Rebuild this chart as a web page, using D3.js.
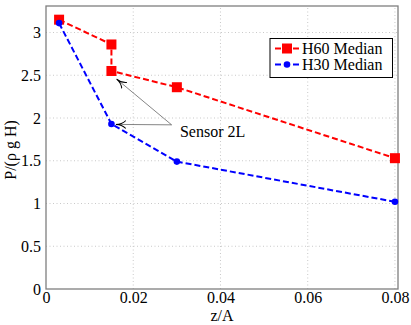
<!DOCTYPE html>
<html>
<head>
<meta charset="utf-8">
<script src="https://cdn.jsdelivr.net/npm/d3@7"></script>
<style>
  body{margin:0;background:#fff;}
  svg text{font-family:"Liberation Serif","DejaVu Serif",serif;fill:#000;}
</style>
</head>
<body>
<div id="chart"></div>
<script>
// data
const h60z = [0.003, 0.015, 0.015, 0.03, 0.08];
const h60p = [3.15, 2.86, 2.55, 2.36, 1.53];
const h30z = [0.003, 0.015, 0.03, 0.08];
const h30p = [3.11, 1.93, 1.49, 1.02];
const xTicks = [0, 0.02, 0.04, 0.06, 0.08];
const yTicks = [0, 0.5, 1, 1.5, 2, 2.5, 3];
const seriesNames = ["H60 Median", "H30 Median"];

const w = 411, h = 325;
const m = {left:46, right:13, top:6, bottom:36};
const fs = "16px";

const svg = d3.select("#chart").append("svg")
    .attr("width", w).attr("height", h);

const x = d3.scaleLinear().domain([0, 0.0807]).range([m.left, w - m.right]);
const y = d3.scaleLinear().domain([0, 3.31]).range([h - m.bottom, m.top]);

//grid
svg.append("g").selectAll("line").data(xTicks.slice(1)).enter().append("line")
    .attr("x1", d => x(d)).attr("x2", d => x(d))
    .attr("y1", y(0)).attr("y2", m.top)
    .attr("stroke", "#bbb").attr("stroke-width", 0.8).attr("stroke-dasharray", "1,2.5");
svg.append("g").selectAll("line").data(yTicks.slice(1)).enter().append("line")
    .attr("y1", d => y(d)).attr("y2", d => y(d))
    .attr("x1", x(0)).attr("x2", w - m.right)
    .attr("stroke", "#bbb").attr("stroke-width", 0.8).attr("stroke-dasharray", "1,2.5");

//axes with labels
const xAxis = svg.append("g").attr("transform", "translate(0," + y(0) + ")")
    .call(d3.axisBottom(x).tickValues(xTicks).tickSize(0).tickPadding(3)
        .tickFormat(d => d === 0 ? "0" : d3.format(".2f")(d)));
const yAxis = svg.append("g").attr("transform", "translate(" + x(0) + ",0)")
    .call(d3.axisLeft(y).tickValues(yTicks).tickSize(0).tickPadding(5)
        .tickFormat(d => d3.format("")(d)));
[xAxis, yAxis].forEach(a => {
    a.select(".domain").remove();
    a.selectAll("text").style("font-family", "Liberation Serif, serif").style("font-size", fs);
});

//frame
svg.append("rect")
    .attr("x", x(0)).attr("y", m.top)
    .attr("width", w - m.right - x(0)).attr("height", y(0) - m.top)
    .attr("fill", "none").attr("stroke", "#7f7f7f").attr("stroke-width", 1.3);

//axis titles
svg.append("text").attr("x", (x(0) + w - m.right) / 2).attr("y", 321)
    .attr("text-anchor", "middle").style("font-size", fs).text("z/A");
svg.append("text").attr("transform", "translate(16,150) rotate(-90)")
    .attr("text-anchor", "middle").style("font-size", fs).text("P/(ρ g H)");

//arrows for annotation
svg.append("defs").append("marker")
    .attr("id", "arr").attr("viewBox", "0 -5 10 10")
    .attr("refX", 10).attr("refY", 0)
    .attr("markerWidth", 10).attr("markerHeight", 10)
    .attr("markerUnits", "userSpaceOnUse").attr("orient", "auto")
    .append("path").attr("d", "M0,-4 Q4,0 10,0 Q4,0 0,4")
    .attr("fill", "none").attr("stroke", "#000").attr("stroke-width", 1);

const tail = [0.0288, 1.92];
const tips = [[0.0162, 2.455], [0.016, 1.925]];
svg.append("g").selectAll("line").data(tips).enter().append("line")
    .attr("x1", x(tail[0])).attr("y1", y(tail[1]))
    .attr("x2", d => x(d[0])).attr("y2", d => y(d[1]))
    .attr("stroke", "#333").attr("stroke-width", 0.6)
    .attr("marker-end", "url(#arr)");
svg.append("text").attr("x", x(0.0307)).attr("y", y(1.78))
    .style("font-size", fs).text("Sensor 2L");

//series lines
const line = d3.line().x(d => x(d[0])).y(d => y(d[1]));
const h60 = d3.zip(h60z, h60p);
const h30 = d3.zip(h30z, h30p);

svg.append("path").datum(h60).attr("d", line)
    .attr("fill", "none").attr("stroke", "#ff0000").attr("stroke-width", 2)
    .attr("stroke-dasharray", "6,3");
svg.append("path").datum(h30).attr("d", line)
    .attr("fill", "none").attr("stroke", "#0000ff").attr("stroke-width", 2)
    .attr("stroke-dasharray", "6,3");

svg.append("g").selectAll("rect").data(h60).enter().append("rect")
    .attr("x", d => x(d[0]) - 5).attr("y", d => y(d[1]) - 5)
    .attr("width", 10).attr("height", 10).attr("fill", "#ff0000");
svg.append("g").selectAll("circle").data(h30).enter().append("circle")
    .attr("cx", d => x(d[0])).attr("cy", d => y(d[1]))
    .attr("r", 3.3).attr("fill", "#0000ff");

//legend
const legend = svg.append("g").attr("id", "legend");
legend.append("rect").attr("x", 270).attr("y", 38.5).attr("width", 122.5).attr("height", 39)
    .attr("fill", "#fff").attr("stroke", "#000").attr("stroke-width", 1);
const colors = ["#ff0000", "#0000ff"];
seriesNames.forEach((name, i) => {
    const ly = 48.5 + i * 16;
    legend.append("line").attr("x1", 275).attr("x2", 299).attr("y1", ly).attr("y2", ly)
        .attr("stroke", colors[i]).attr("stroke-width", 2).attr("stroke-dasharray", "6,3");
    if (i === 0) {
        legend.append("rect").attr("x", 282).attr("y", ly - 5).attr("width", 10).attr("height", 10)
            .attr("fill", colors[i]);
    } else {
        legend.append("circle").attr("cx", 287).attr("cy", ly).attr("r", 3.3).attr("fill", colors[i]);
    }
    legend.append("text").attr("x", 302).attr("y", ly + 5.5).style("font-size", fs).text(name);
});
</script>
</body>
</html>
